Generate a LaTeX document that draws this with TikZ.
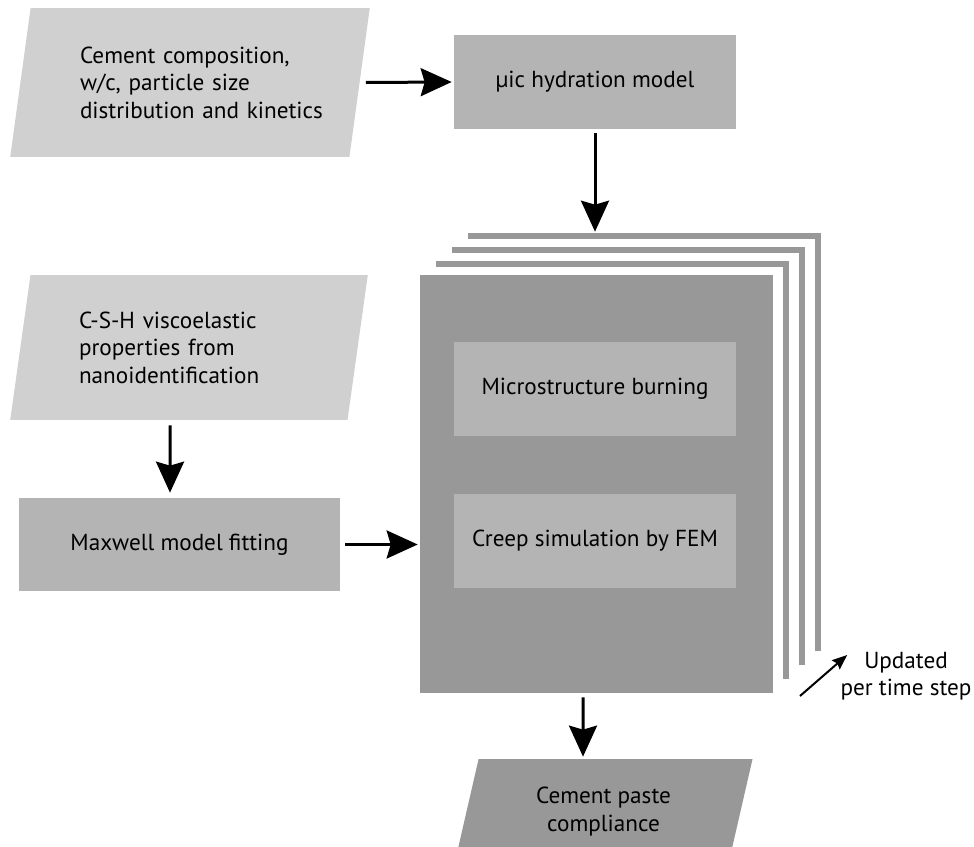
\documentclass[tikz,border=0pt]{standalone}
\usepackage{fontspec}
\setmainfont{PT Sans}
\usetikzlibrary{arrows.meta,positioning,calc,shapes.geometric}
\definecolor{iolight}{HTML}{D0D0D0}
\definecolor{boxgray}{HTML}{B4B4B4}
\definecolor{stackgray}{HTML}{989898}
\newcommand{\ind}{\hspace*{0.8cm}}

\begin{document}
\begin{tikzpicture}[
  x=0.02cm, y=-0.02cm,
  font=\fontsize{13.2}{15.6}\selectfont,
  box/.style={rectangle, fill=boxgray, inner sep=0pt, align=center},
  io/.style={trapezium, trapezium left angle=75, trapezium right angle=105,
             trapezium stretches=true, fill=iolight, inner sep=0pt,
             text width=6cm, align=left},
  stack/.style={rectangle, fill=stackgray, inner sep=0pt},
  layer/.style={draw=stackgray, line width=0.12cm},
  arr/.style={-{Stealth[length=0.62cm,width=0.56cm,inset=0.08cm]}, line width=0.06cm},
  smallarr/.style={-{Stealth[length=0.3cm,width=0.24cm,inset=0.04cm]}, line width=0.04cm},
]
\useasboundingbox (0,0) rectangle (974,847);

% inputs and hydration
\node[io, minimum width=7.2cm, minimum height=2.98cm] (comp) at (190,82.5)
  {\ind Cement composition,\\\ind w/c, particle size\\\ind distribution and kinetics};
\node[box, minimum width=5.64cm, minimum height=1.88cm] (hyd) at (595,82)
  {µic hydration model};
\node[io, minimum width=7.16cm, minimum height=2.9cm] (csh) at (189,347.5)
  {\ind C-S-H viscoelastic\\\ind properties from\\\ind nanoidentification};
\node[box, minimum width=6.42cm, minimum height=1.86cm] (maxwell) at (179.5,544.5)
  {Maxwell model fitting};

% stack of time steps
\node[stack, minimum width=7.06cm, minimum height=8.36cm] (main) at (596.5,484) {};
\foreach \i in {1,2,3}
  \draw[layer] ($(main.north west)+(16*\i,-14*\i+3)$)
    -- ($(main.north east)+(16*\i-3,-14*\i+3)$)
    -- ($(main.south east)+(16*\i-3,-14*\i)$);
\node[box, minimum width=5.64cm, minimum height=1.88cm] (burn) at (595,389)
  {Microstructure burning};
\node[box, minimum width=5.64cm, minimum height=1.88cm] (creep) at (595,541)
  {Creep simulation by FEM};

% output
\node[io, fill=stackgray, text width=, align=center, minimum width=5.98cm,
      minimum height=2.1cm] (out) at (603.5,811.5) {Cement paste\\compliance};

\node[align=center, inner sep=0pt] (upd) at (906,676) {Updated\\per time step};
\coordinate (updtail) at (800,696);
\coordinate (stacktop) at ($(main.north)+(0,-43)$);

\draw[arr] ($(comp.east)+(6,0)$) -- ($(hyd.west)+(-2,0)$);
\draw[arr] ($(hyd.south)+(0,4)$) -- (stacktop -| hyd.south);
\draw[arr] ($(csh.south)+(-19,5)$) -- ($(maxwell.north)+(-9.5,-5)$);
\draw[arr] ($(maxwell.east)+(5,0)$) -- ($(maxwell.east -| main.west)+(-2,0)$);
\draw[arr] ($(main.south)+(-13.5,4)$) -- ($(out.north)+(-20.5,-2)$);
\draw[smallarr] (updtail) -- ($(upd.west)+(7,-21)$);
\end{tikzpicture}
\end{document}
